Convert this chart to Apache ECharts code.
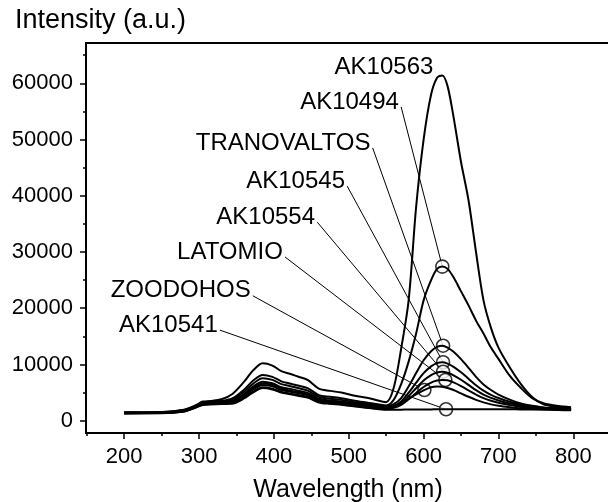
<!DOCTYPE html>
<html><head><meta charset="utf-8">
<script src="https://cdn.jsdelivr.net/npm/echarts@6/dist/echarts.min.js"></script>
<style>html,body{margin:0;padding:0;background:#fff}#c{width:608px;height:502px}</style>
</head><body><div id="c"></div>
<script>
// ---- data ----
const wavelengths = [200,250,280,295,305,315,330,345,360,372,385,398,410,420,432,445,460,475,490,510,530,550,560,570,580,590,600,610,618,625,632,640,650,660,670,680,690,700,715,730,745,760,780,797];
const ak10563 = [1500,1550,1950,2700,3400,3500,3800,4800,6900,8900,10200,9800,8800,8400,7850,7250,5700,5300,5000,4400,3900,3300, 5800,12800,21400,38000,50000,58000,61000,61400,59500,54000,46000,39200,30000,21400,16500,13000,9500,6500,4200,2900,2400,2250];
const ak10494 = [1450,1500,1900,2600,3200,3300,3500,4000,5500,7100,8130,7800,7000,6650,6250,5800,4550,4250,4000,3500,3100,2700, 3700,6500,10500,15500,21400,25000,27000,27400,27000,25500,23000,20500,17800,15500,13000,11000,8000,5800,4000,3100,2600,2400];
const tranovaltos = [1400,1450,1850,2550,3100,3200,3350,3750,5150,6550,7540,7250,6500,6200,5800,5350,4250,3900,3700,3250,2850,2500, 2930,4020,6080,8460,10740,12360,13120,13340,13010,12260,10950,9400,7800,6450,5450,4650,3750,3050,2650,2350,2200,2100];
const ak10545 = [1400,1420,1800,2500,3000,3100,3200,3500,4750,6050,6940,6650,5950,5700,5350,4950,3900,3600,3400,3000,2650,2300, 2620,3430,4970,6750,8450,9660,10230,10390,10150,9580,8610,7460,6300,5330,4600,4030,3370,2850,2550,2320,2150,2050];
const ak10554 = [1350,1400,1750,2450,2950,3050,3150,3350,4500,5750,6600,6350,5700,5400,5100,4700,3700,3450,3250,2850,2500,2200, 2460,3110,4350,5780,7150,8120,8580,8710,8520,8060,7280,6360,5420,4630,4050,3600,3080,2650,2420,2220,2080,1980];
const latomio = [1350,1380,1700,2400,2900,3000,3050,3250,4350,5500,6350,6100,5450,5200,4900,4500,3550,3300,3100,2750,2400,2100, 2300,2820,3800,4930,6000,6780,7140,7240,7180,6800,6150,5380,4620,4000,3550,3200,2800,2450,2280,2120,2000,1900];
const zoodohos = [1300,1350,1650,2350,2850,2950,3000,3100,4050,5150,5940,5700,5100,4850,4550,4200,3350,3100,2900,2550,2250,2050, 2400,3050,3900,4700,5400,5950,6100,6020,5800,5450,4850,4250,3700,3250,2900,2650,2400,2200,2100,2000,1900,1850];
const ak10541 = [1300,1330,1650,2300,2800,2900,2950,3050,3950,5000,5800,5550,5000,4750,4450,4100,3250,3000,2850,2500,2200,1950, 1950,1960,1980,1990,2000,2010,2020,2030,2030,2040,2050,2050,2050,2050,2040,2040,2030,2010,2000,1980,1960,1950];

// annotations (label anchor = start of leader line, marker = open circle)
const annotationNames = ['AK10563','AK10494','TRANOVALTOS','AK10545','AK10554','LATOMIO','ZOODOHOS','AK10541'];
const labelX = [616, 570, 532, 498, 458, 415, 372, 328];
const labelY = [62000, 55800, 48500, 41700, 35300, 29100, 22200, 16100];
const markerX = [null, 625, 626, 626, 626, 629, 601, 630];
const markerY = [null, 27400, 13340, 10390, 8710, 7240, 5460, 2030];

// ticks
const xTickLabels = [200,300,400,500,600,700,800];
const xMinorTicks = [150,250,350,450,550,650,750,850];
const yTickLabels = [0,10000,20000,30000,40000,50000,60000];
const yMinorTicks = [5000,15000,25000,35000,45000,55000,65000];

// ---- chart ----
const FONT = '"Liberation Sans", Arial, Helvetica, sans-serif';
const chart = echarts.init(document.getElementById('c'), null, {renderer:'canvas'});
const spectra = [ak10563, ak10494, tranovaltos, ak10545, ak10554, latomio, zoodohos, ak10541];
const series = [];
spectra.forEach(function(s){
  series.push({type:'line', data: wavelengths.map(function(w,i){return [w,s[i]];}),
    showSymbol:false, smooth:0.3, lineStyle:{color:'#000', width:2}, z:3, silent:true});
});
annotationNames.forEach(function(n,i){
  if (markerX[i] !== null) {
    series.push({type:'line', data:[[labelX[i],labelY[i]],[markerX[i],markerY[i]]],
      showSymbol:false, lineStyle:{color:'#000', width:1}, z:1, silent:true});
  }
});
const markers = [];
annotationNames.forEach(function(n,i){ if (markerX[i] !== null) markers.push([markerX[i], markerY[i]]); });
series.push({type:'scatter', data:markers, symbol:'circle', symbolSize:13,
  itemStyle:{color:'#fff', borderColor:'#000', borderWidth:1.6}, z:2, silent:true});
series.push({type:'scatter', data: annotationNames.map(function(n,i){return {value:[labelX[i],labelY[i]], name:n};}),
  symbolSize:0.5, itemStyle:{color:'#000', opacity:1}, z:4, silent:true,
  label:{show:true, position:'left', distance:2, offset:[0,-5], formatter:'{b}', color:'#000', opacity:1, fontSize:24, fontFamily:FONT}});

const baseX = {type:'value', min:149, max:849, position:'bottom', splitLine:{show:false}};
const baseY = {type:'value', min:-2190, max:67170, position:'left', splitLine:{show:false}};

chart.setOption({
  animation:false,
  backgroundColor:'#fff',
  title:{text:'Intensity (a.u.)', left:10, top:2, textStyle:{fontSize:27, fontWeight:'normal', color:'#000', fontFamily:FONT}},
  grid:{left:86, top:43, width:524, height:390, show:true, borderColor:'#000', borderWidth:2, backgroundColor:'transparent',
    containLabel:false, outerBoundsMode:'none'},
  xAxis:[
    Object.assign({}, baseX, {
      axisLine:{show:true, onZero:false, lineStyle:{color:'#000', width:2}},
      axisTick:{show:true, inside:false, length:6, customValues:xTickLabels, lineStyle:{color:'#000', width:1.5}},
      axisLabel:{show:true, customValues:xTickLabels, margin:13, fontSize:22, color:'#000', fontFamily:FONT},
      name:'Wavelength (nm)', nameLocation:'middle', nameGap:45,
      nameTextStyle:{fontSize:25, color:'#000', fontFamily:FONT}
    }),
    Object.assign({}, baseX, {
      axisLine:{show:false, onZero:false},
      axisTick:{show:true, inside:false, length:3, customValues:xMinorTicks, lineStyle:{color:'#000', width:1.5}},
      axisLabel:{show:false}
    })
  ],
  yAxis:[
    Object.assign({}, baseY, {
      axisLine:{show:true, onZero:false, lineStyle:{color:'#000', width:2}},
      axisTick:{show:true, inside:false, length:6, customValues:yTickLabels, lineStyle:{color:'#000', width:1.5}},
      axisLabel:{show:true, customValues:yTickLabels, margin:13, fontSize:22, color:'#000', fontFamily:FONT,
        formatter:function(v){return String(v);}}
    }),
    Object.assign({}, baseY, {
      axisLine:{show:false, onZero:false},
      axisTick:{show:true, inside:false, length:3, customValues:yMinorTicks, lineStyle:{color:'#000', width:1.5}},
      axisLabel:{show:false}
    })
  ],
  series: series
});
</script>
</body></html>
